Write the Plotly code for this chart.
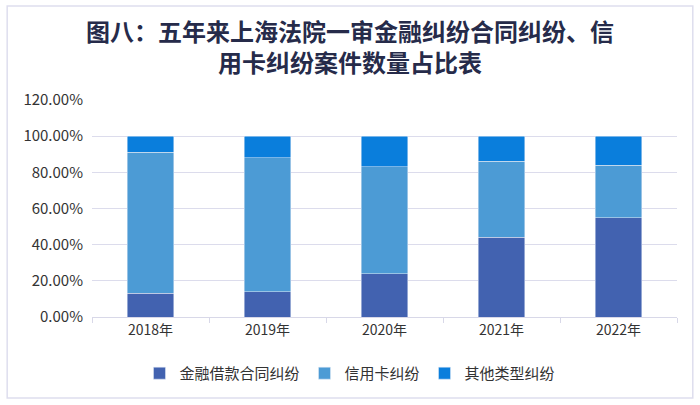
import plotly.graph_objects as go

# years and share of each case type (%)
years = ['2018年', '2019年', '2020年', '2021年', '2022年']
finance_loan = [13, 14, 24, 44, 55]
credit_card = [78, 74, 59, 42, 29]
other = [9, 12, 17, 14, 16]

fig = go.Figure()
fig.add_trace(go.Bar(x=years, y=finance_loan, name='金融借款合同纠纷', marker_color='#4262b0'))
fig.add_trace(go.Bar(x=years, y=credit_card, name='信用卡纠纷', marker_color='#4c9bd5'))
fig.add_trace(go.Bar(x=years, y=other, name='其他类型纠纷', marker_color='#0a7edc'))

font_family = 'Noto Sans CJK SC, Arial, sans-serif'

fig.update_layout(
    barmode='stack',
    bargap=0.6,
    width=700, height=405,
    margin=dict(l=92, r=23, t=100, b=88),
    plot_bgcolor='white', paper_bgcolor='white',
    font=dict(family=font_family, size=14, color='#333333'),
    title=dict(
        text='<b>图八：五年来上海法院一审金融纠纷合同纠纷、信<br>用卡纠纷案件数量占比表</b>',
        x=0.5, xanchor='center', y=0.90, yanchor='top',
        font=dict(size=24, color='#262b4a', family=font_family),
    ),
    legend=dict(orientation='h', x=0.441, xanchor='center', y=-0.26, yanchor='middle',
                font=dict(size=15, color='#333333'), itemwidth=30, traceorder='normal'),
)
fig.update_yaxes(range=[0, 120], dtick=20, ticksuffix='.00%', gridcolor='#dcdcec',
                 zeroline=False, ticklabelstandoff=8, tickfont=dict(size=15, color='#333333'))
fig.update_xaxes(showline=True, linecolor='#d8d8e8', ticks='outside', tickson='boundaries',
                 tickcolor='#d8d8e8', ticklen=5, tickfont=dict(size=14, color='#333333'))

# light frame around the whole chart
fig.add_shape(type='rect', xref='paper', yref='paper', x0=-0.145, x1=1.027, y0=-0.373, y1=1.433,
              line=dict(color='#dedeee', width=1.5), fillcolor='rgba(0,0,0,0)')

# page body has a default 8px margin; drop it so the chart sits at the window corner
fig.write_html('out.html', config={'displayModeBar': False},
               post_script="document.body.style.margin='0px';")
